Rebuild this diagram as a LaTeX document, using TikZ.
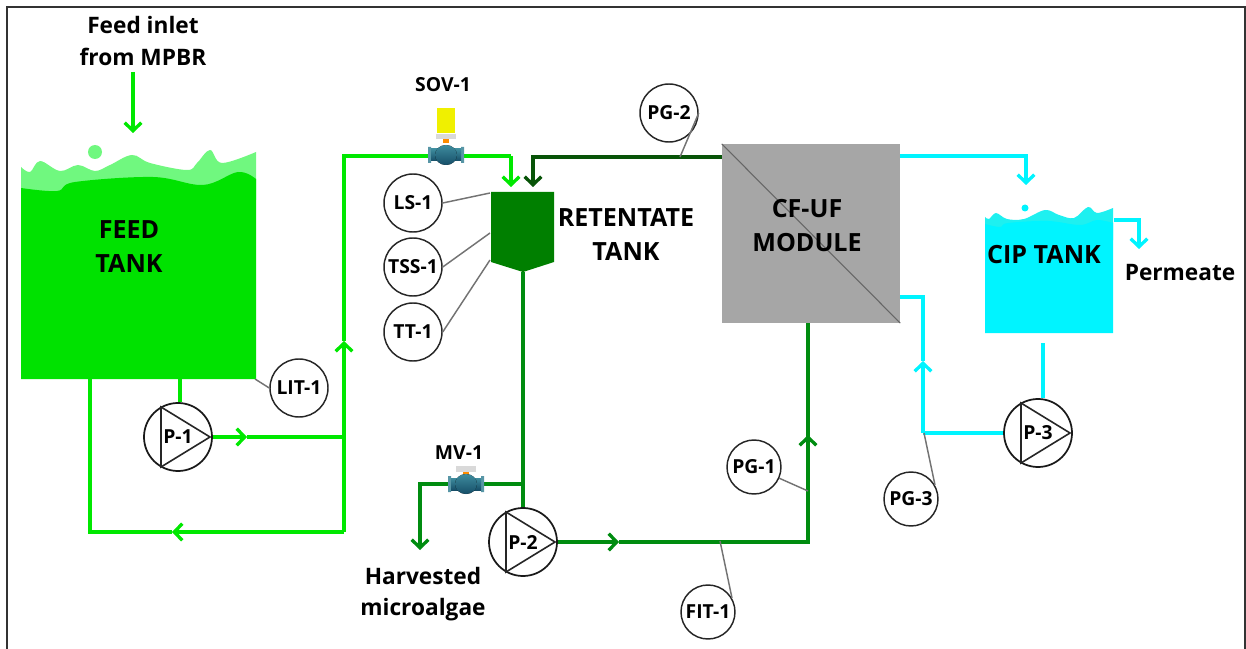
\documentclass[tikz,border=0pt]{standalone}
\usepackage{fontspec}
\setmainfont{Open Sans}
\usetikzlibrary{arrows.meta}
\definecolor{feedgreen}{RGB}{0,226,0}
\definecolor{feedlight}{RGB}{112,248,127}
\definecolor{linegreen}{RGB}{0,232,0}
\definecolor{retgreen}{RGB}{0,127,0}
\definecolor{harvgreen}{RGB}{0,140,16}
\definecolor{backgreen}{RGB}{8,84,8}
\definecolor{cipcyan}{RGB}{0,244,255}
\definecolor{ciplight}{RGB}{30,240,240}
\definecolor{modgray}{RGB}{166,166,166}
\definecolor{valvetop}{RGB}{62,140,158}
\definecolor{valvelow}{RGB}{22,78,104}
\definecolor{valverim}{RGB}{88,150,166}
\definecolor{soLemon}{RGB}{240,240,0}
\tikzset{
  labeltext/.style={font=\fontsize{17}{23.5}\selectfont\bfseries,align=center,inner sep=0pt},
  tanktext/.style={font=\fontsize{18.8}{25.5}\selectfont\bfseries,align=center,inner sep=0pt},
  tagtext/.style={font=\fontsize{14.5}{16}\selectfont\bfseries,inner sep=0pt},
  inst/.style={circle,draw=black!85,line width=1.1pt,fill=white,minimum size=43.5pt,inner sep=0pt,tagtext},
  pumpnode/.style={circle,draw=black!90,line width=1.3pt,fill=white,minimum size=51pt,inner sep=0pt,tagtext},
  tagline/.style={draw=black!55,line width=1.1pt},
  pipe/.style={line width=2.4pt,line join=miter,arrows={-{Straight Barb[length=6pt,width=12.5pt,line width=2.5pt]}}},
  plain/.style={line width=2.4pt,line join=miter},
  valvebody/.pic={
    \fill [color=valverim] (-18,-8) rectangle (-15,8) (15,-8) rectangle (18,8);
    \fill [top color=valvetop,bottom color=valvelow] (-15,-6) rectangle (15,6);
    \fill [top color=valvetop,bottom color=valvelow] (0,0) ellipse (11 and 10);
  }
}
\begin{document}
\begin{tikzpicture}[x=0.75pt,y=0.75pt,yscale=-1,xscale=1]
        \useasboundingbox (0,0) rectangle (1246,649);
        %Frame
        \draw [line width=1.1pt,color=black!80] (7,649) -- (7,7) -- (1245,7) -- (1245,649);

        %Shape: Feed tank
        \fill [feedlight] (21,167) -- plot [smooth,tension=0.6] coordinates {(21,167) (30,172) (40,161) (60,171) (78,165) (95,171) (110,165) (132,155) (150,163) (187,170) (197,163) (210,150) (222,163) (256,152)} -- (256,200) -- (21,200) -- cycle;
        \fill [feedgreen] (21,188) -- plot [smooth,tension=0.6] coordinates {(21,188) (57,191) (75,182) (153,177) (203,185) (238,172) (256,179)} -- (256,379) -- (21,379) -- cycle;
        \fill [feedlight] (95,152) circle (7);
        %Shape: CIP tank
        \fill [ciplight] (985,217) -- plot [smooth,tension=0.6] coordinates {(985,217) (989,219) (996,213) (1007,219) (1024,219) (1045,210) (1059,215) (1074,218) (1088,207) (1097,213) (1113,208)} -- (1113,240) -- (985,240) -- cycle;
        \fill [cipcyan] (985,224) -- plot [smooth,tension=0.6] coordinates {(985,224) (1000,227) (1008,223) (1048,221) (1080,225) (1097,220) (1113,223)} -- (1113,333) -- (985,333) -- cycle;
        \fill [cipcyan] (1025,208) circle (3.5);
        %Shape: Retentate tank
        \fill [retgreen] (491,192) -- (554,192) -- (554,262) -- (523,272) -- (491,262) -- cycle;

        % Pipe ends
        \coordinate (inletTop) at (133,72);
        \coordinate (inletEnd) at (133,133);
        \coordinate (feedOut) at (180,379);
        \coordinate (feedBack) at (90,379);
        \coordinate (backCorner) at (90,532);
        \coordinate (backArrow) at (172,532);
        \coordinate (riserFoot) at (344,532);
        \coordinate (riserTee) at (344,437);
        \coordinate (riserArrow) at (344,341);
        \coordinate (riserTop) at (344,156);
        \coordinate (feedArrow) at (247,437);
        \coordinate (retTurn) at (511,156);
        \coordinate (retEnd) at (511,187);
        \coordinate (backTurn) at (533,157);
        \coordinate (backEnd) at (533,187);
        \coordinate (retOut) at (523,272);
        \coordinate (harvTee) at (523,484);
        \coordinate (harvTurn) at (420,484);
        \coordinate (harvEnd) at (420,550);
        \coordinate (p2Arrow) at (619,542);
        \coordinate (p2Turn) at (808,542);
        \coordinate (modArrow) at (808,435);
        \coordinate (cipTurn) at (1026,156);
        \coordinate (cipEnd) at (1026,185);
        \coordinate (permStart) at (1114,220);
        \coordinate (permTurn) at (1139,220);
        \coordinate (permEnd) at (1139,249);
        \coordinate (loopTurn) at (923,297);
        \coordinate (loopArrow) at (923,361);
        \coordinate (loopFoot) at (923,433);
        \coordinate (cipOut) at (1043,343);
        \coordinate (lsTap) at (490,193);
        \coordinate (tssTap) at (490,233);
        \coordinate (ttTap) at (490,260);
        \coordinate (litTap) at (255,379);
        \coordinate (pg2Tap) at (680,157);
        \coordinate (pg1Tap) at (808,491);
        \coordinate (fitTap) at (720,541);
        \coordinate (pg3Tap) at (924,433);

        % Module
        \draw (811,233.5) node [draw=none,fill=modgray,minimum width=133.5pt,minimum height=134pt,inner sep=0pt] (module) {};
        \draw [line width=0.8pt,color=black!60] (module.north west) -- (module.south east);

        % Pumps
        \draw (178,437) node [pumpnode] (P1) {P-1};
        \draw (523,542) node [pumpnode] (P2) {P-2};
        \draw (1038,433) node [pumpnode] (P3) {P-3};
        \foreach \pumpname in {P1,P2,P3} {
          \draw [line width=1.2pt,color=black!85] ([shift={(-17,-30)}]\pumpname.center) -- ([shift={(32,0)}]\pumpname.center) -- ([shift={(-17,30)}]\pumpname.center) -- cycle;
        }

        % Feed pipes
        \draw [pipe,color=linegreen] (inletTop) -- (inletEnd);
        \draw [plain,color=linegreen] (feedOut) -- (feedOut |- P1.north);
        \draw [pipe,color=linegreen] (P1.east) -- (feedArrow);
        \draw [plain,color=linegreen] (feedArrow) -- (riserTee);
        \draw [plain,color=linegreen] (riserFoot) -- (riserTee);
        \draw [pipe,color=linegreen] (riserTee) -- (riserArrow);
        \draw [plain,color=linegreen] (riserArrow) -- (riserTop) -- (retTurn);
        \draw [pipe,color=linegreen] (retTurn) -- (retEnd);
        \draw [pipe,color=linegreen] (riserFoot) -- (backArrow);
        \draw [plain,color=linegreen] (backArrow) -- (backCorner) -- (feedBack);

        % Retentate pipes
        \draw [plain,color=harvgreen] (retOut) -- (P2.north);
        \draw [pipe,color=harvgreen] (harvTee) -- (harvTurn) -- (harvEnd);
        \draw [pipe,color=harvgreen] (P2.east) -- (p2Arrow);
        \draw [plain,color=harvgreen] (p2Arrow) -- (p2Turn) -- (modArrow);
        \draw [pipe,color=harvgreen] (p2Turn) -- (modArrow);
        \draw [plain,color=harvgreen] (modArrow) -- (module.south -| modArrow);
        \draw [pipe,color=backgreen] (module.west |- backTurn) -- (backTurn) -- (backEnd);

        % Cyan pipes
        \draw [pipe,color=cipcyan] (module.east |- cipTurn) -- (cipTurn) -- (cipEnd);
        \draw [pipe,color=cipcyan] (permStart) -- (permTurn) -- (permEnd);
        \draw [plain,color=cipcyan] (module.east |- loopTurn) -- (loopTurn) -- (loopArrow);
        \draw [pipe,color=cipcyan] (loopFoot) -- (loopArrow);
        \draw [plain,color=cipcyan] (P3.west) -- (loopFoot);
        \draw [plain,color=cipcyan] (cipOut) -- (cipOut |- P3.north);

        % Valves
        \fill [color=soLemon] (437,108) rectangle (455,133);
        \fill [color=black!15] (436,134) rectangle (456,139);
        \fill [color=orange!90!yellow] (443,139) rectangle (449,143);
        \pic at (446,155) {valvebody};
        \fill [color=black!15] (456,466) rectangle (476,472);
        \fill [color=orange!90!yellow] (463,472) rectangle (469,476);
        \pic at (466,484) {valvebody};

        % Instruments
        \draw (413,203) node [inst] (LS1) {LS-1};
        \draw (413,267) node [inst] (TSS1) {TSS-1};
        \draw (413,332) node [inst] (TT1) {TT-1};
        \draw (299,388) node [inst] (LIT1) {LIT-1};
        \draw (669,113) node [inst] (PG2) {PG-2};
        \draw (754,467) node [inst,minimum size=40.5pt] (PG1) {PG-1};
        \draw (708,612) node [inst,minimum size=40.5pt] (FIT1) {FIT-1};
        \draw (911,499) node [inst,minimum size=40.5pt] (PG3) {PG-3};
        \draw [tagline] (LS1.east) -- (lsTap);
        \draw [tagline] (TSS1.east) -- (tssTap);
        \draw [tagline] (TT1.east) -- (ttTap);
        \draw [tagline] (LIT1.west) -- (litTap);
        \draw [tagline] (PG2.east) -- (pg2Tap);
        \draw [tagline] (PG1) -- (pg1Tap);
        \draw [tagline] (FIT1.30) -- (fitTap);
        \draw [tagline] (PG3.30) -- (pg3Tap);

        % Text Node
        \draw (143,41) node [labeltext] (inletText) {Feed inlet\\from MPBR};
        % Text Node
        \draw (129,247) node [tanktext] (feedText) {FEED\\TANK};
        % Text Node
        \draw (626,235) node [tanktext] (retText) {RETENTATE\\TANK};
        % Text Node
        \draw (807,226) node [tanktext] (modText) {CF-UF\\MODULE};
        % Text Node
        \draw (1044,255) node [tanktext] (cipText) {CIP TANK};
        % Text Node
        \draw (1180,273) node [labeltext] (permText) {Permeate};
        % Text Node
        \draw (423,594) node [labeltext] (harvText) {Harvested\\microalgae};
        % Text Node
        \draw (443,85) node [tagtext] (sovText) {SOV-1};
        % Text Node
        \draw (459,453) node [tagtext] (mvText) {MV-1};
\end{tikzpicture}
\end{document}
